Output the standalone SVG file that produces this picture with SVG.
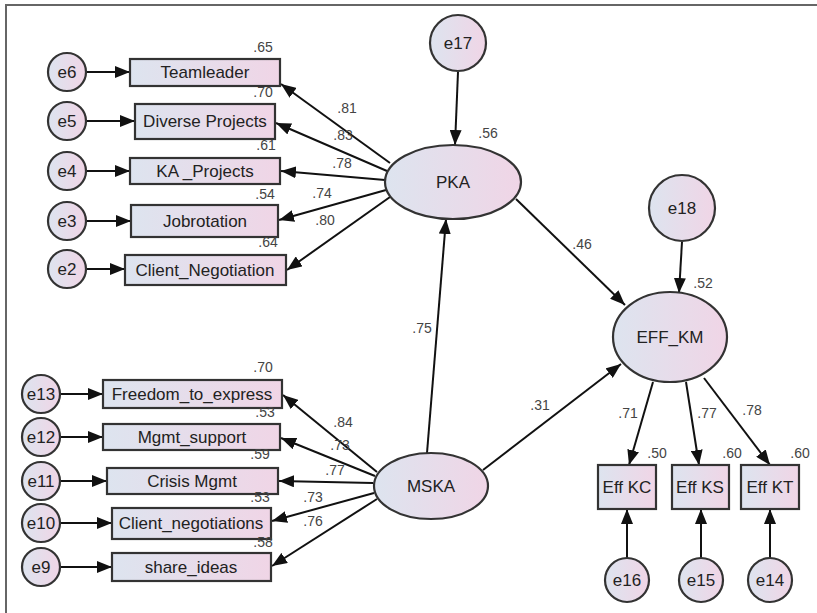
<svg xmlns="http://www.w3.org/2000/svg" width="817" height="613" viewBox="0 0 817 613">
<defs>
<linearGradient id="g" x1="0" y1="0" x2="1" y2="0">
<stop offset="0" stop-color="#dde4ef"/>
<stop offset="1" stop-color="#f0d5e6"/>
</linearGradient>
<marker id="ah" markerUnits="userSpaceOnUse" markerWidth="16" markerHeight="12" refX="15" refY="6" orient="auto">
<path d="M0,0 L15,6 L0,12 Z" fill="#111"/>
</marker>
<style>
.n{fill:url(#g);stroke:#333;stroke-width:2.2}
.t{font-family:"Liberation Sans",Arial,sans-serif;font-size:17px;fill:#222;text-anchor:middle;dominant-baseline:central}
.v{font-family:"Liberation Sans",Arial,sans-serif;font-size:14px;fill:#444;text-anchor:middle;dominant-baseline:central}
.c line{stroke:#111;stroke-width:2;marker-end:url(#ah)}
</style>
</defs>
<rect width="817" height="613" fill="#fff"/>
<path d="M6,613 L6,5 L817,5" fill="none" stroke="#666" stroke-width="2"/>

<g class="c" id="connectors">
<line x1="86" y1="72" x2="130" y2="72"/>
<line x1="86" y1="121" x2="135" y2="121"/>
<line x1="86" y1="171" x2="130" y2="171"/>
<line x1="86" y1="221" x2="131" y2="221"/>
<line x1="86" y1="269" x2="125" y2="269"/>
<line x1="60" y1="394" x2="103" y2="394"/>
<line x1="60" y1="437" x2="103" y2="437"/>
<line x1="60" y1="481" x2="107" y2="481"/>
<line x1="60" y1="523" x2="112" y2="523"/>
<line x1="60" y1="567" x2="112" y2="567"/>
<line x1="390" y1="163" x2="281" y2="84"/>
<line x1="387" y1="171" x2="276" y2="123"/>
<line x1="385" y1="180" x2="281" y2="171"/>
<line x1="386" y1="190" x2="279" y2="220"/>
<line x1="390" y1="197" x2="287" y2="270"/>
<line x1="377" y1="472" x2="283" y2="395"/>
<line x1="375" y1="476" x2="281" y2="438"/>
<line x1="373" y1="483" x2="279" y2="481"/>
<line x1="374" y1="493" x2="272" y2="521"/>
<line x1="377" y1="499" x2="272" y2="566"/>
<line x1="458" y1="72" x2="455" y2="145"/>
<line x1="427" y1="453" x2="446" y2="219"/>
<line x1="516" y1="199" x2="625" y2="305"/>
<line x1="483" y1="470" x2="621" y2="364"/>
<line x1="682" y1="242" x2="679" y2="293"/>
<line x1="653" y1="382" x2="629" y2="465"/>
<line x1="686" y1="382" x2="699" y2="465"/>
<line x1="704" y1="378" x2="770" y2="465"/>
<line x1="627" y1="558" x2="627" y2="509"/>
<line x1="701" y1="558" x2="701" y2="509"/>
<line x1="770" y1="558" x2="770" y2="509"/>
</g>

<g id="e6"><circle class="n" cx="67" cy="72" r="19"/><text class="t" x="67" y="72">e6</text></g>
<g id="e5"><circle class="n" cx="67" cy="121" r="19"/><text class="t" x="67" y="121">e5</text></g>
<g id="e4"><circle class="n" cx="67" cy="171" r="19"/><text class="t" x="67" y="171">e4</text></g>
<g id="e3"><circle class="n" cx="67" cy="221" r="19"/><text class="t" x="67" y="221">e3</text></g>
<g id="e2"><circle class="n" cx="67" cy="269" r="19"/><text class="t" x="67" y="269">e2</text></g>

<g id="teamleader"><rect class="n" x="130" y="59" width="150" height="27"/><text class="t" x="205" y="72">Teamleader</text></g>
<g id="diverse"><rect class="n" x="135" y="104" width="140" height="35"/><text class="t" x="205" y="121">Diverse Projects</text></g>
<g id="kaprojects"><rect class="n" x="130" y="158" width="150" height="26"/><text class="t" x="205" y="171">KA _Projects</text></g>
<g id="jobrotation"><rect class="n" x="131" y="205" width="147" height="32"/><text class="t" x="205" y="221">Jobrotation</text></g>
<g id="clientneg"><rect class="n" x="125" y="255" width="161" height="30"/><text class="t" x="205" y="270">Client_Negotiation</text></g>

<g id="e13"><circle class="n" cx="41" cy="394" r="19"/><text class="t" x="41" y="394">e13</text></g>
<g id="e12"><circle class="n" cx="41" cy="437" r="19"/><text class="t" x="41" y="437">e12</text></g>
<g id="e11"><circle class="n" cx="41" cy="481" r="19"/><text class="t" x="41" y="481">e11</text></g>
<g id="e10"><circle class="n" cx="41" cy="523" r="19"/><text class="t" x="41" y="523">e10</text></g>
<g id="e9"><circle class="n" cx="41" cy="567" r="19"/><text class="t" x="41" y="567">e9</text></g>

<g id="freedom"><rect class="n" x="103" y="380" width="179" height="28"/><text class="t" x="192" y="394">Freedom_to_express</text></g>
<g id="mgmt"><rect class="n" x="103" y="424" width="177" height="26"/><text class="t" x="192" y="437">Mgmt_support</text></g>
<g id="crisis"><rect class="n" x="107" y="468" width="171" height="26"/><text class="t" x="192" y="481">Crisis Mgmt</text></g>
<g id="clientnegs"><rect class="n" x="112" y="508" width="159" height="31"/><text class="t" x="191" y="523">Client_negotiations</text></g>
<g id="share"><rect class="n" x="112" y="553" width="159" height="28"/><text class="t" x="191" y="567">share_ideas</text></g>

<g id="e17"><circle class="n" cx="458" cy="43" r="28"/><text class="t" x="458" y="43">e17</text></g>
<g id="pka"><ellipse class="n" cx="453" cy="182" rx="68" ry="37"/><text class="t" x="453" y="182">PKA</text></g>
<g id="msk"><ellipse class="n" cx="431" cy="486" rx="57" ry="33"/><text class="t" x="431" y="486">MSKA</text></g>
<g id="e18"><circle class="n" cx="682" cy="208" r="33"/><text class="t" x="682" y="208">e18</text></g>
<g id="effkm"><ellipse class="n" cx="670" cy="337" rx="57" ry="45"/><text class="t" x="670" y="337">EFF_KM</text></g>

<g id="effkc"><rect class="n" x="598" y="465" width="58" height="44"/><text class="t" x="627" y="487">Eff KC</text></g>
<g id="effks"><rect class="n" x="672" y="465" width="57" height="44"/><text class="t" x="700" y="487">Eff KS</text></g>
<g id="effkt"><rect class="n" x="741" y="465" width="58" height="44"/><text class="t" x="770" y="487">Eff KT</text></g>
<g id="e16"><circle class="n" cx="627" cy="580" r="22"/><text class="t" x="627" y="580">e16</text></g>
<g id="e15"><circle class="n" cx="701" cy="580" r="22"/><text class="t" x="701" y="580">e15</text></g>
<g id="e14"><circle class="n" cx="770" cy="580" r="22"/><text class="t" x="770" y="580">e14</text></g>

<g id="labels">
<text class="v" x="263" y="47">.65</text>
<text class="v" x="263" y="92">.70</text>
<text class="v" x="266" y="145">.61</text>
<text class="v" x="265" y="194">.54</text>
<text class="v" x="268" y="242">.64</text>
<text class="v" x="347" y="108">.81</text>
<text class="v" x="343" y="135">.83</text>
<text class="v" x="342" y="163">.78</text>
<text class="v" x="322" y="193">.74</text>
<text class="v" x="325" y="220">.80</text>
<text class="v" x="488" y="133">.56</text>
<text class="v" x="582" y="244">.46</text>
<text class="v" x="703" y="283">.52</text>
<text class="v" x="422" y="328">.75</text>
<text class="v" x="540" y="405">.31</text>
<text class="v" x="263" y="367">.70</text>
<text class="v" x="265" y="412">.53</text>
<text class="v" x="260" y="454">.59</text>
<text class="v" x="260" y="497">.53</text>
<text class="v" x="263" y="542">.58</text>
<text class="v" x="343" y="422">.84</text>
<text class="v" x="340" y="445">.73</text>
<text class="v" x="335" y="470">.77</text>
<text class="v" x="313" y="497">.73</text>
<text class="v" x="313" y="521">.76</text>
<text class="v" x="628" y="413">.71</text>
<text class="v" x="707" y="413">.77</text>
<text class="v" x="752" y="410">.78</text>
<text class="v" x="657" y="453">.50</text>
<text class="v" x="732" y="453">.60</text>
<text class="v" x="800" y="453">.60</text>
</g>
</svg>
